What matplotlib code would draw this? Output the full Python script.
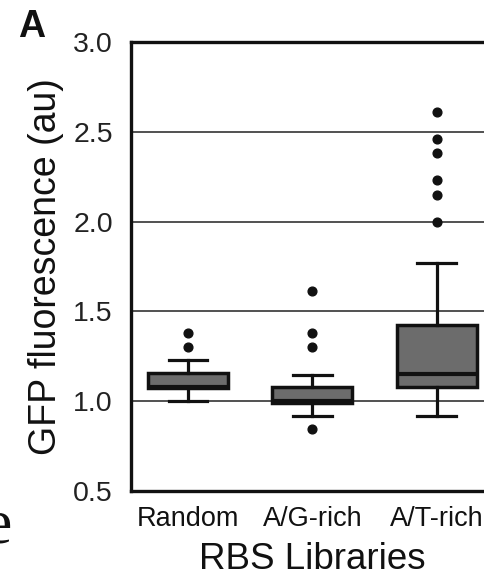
import matplotlib
matplotlib.use("Agg")
import matplotlib.pyplot as plt

plt.rcParams['font.family'] = ['Liberation Sans', 'DejaVu Sans']

# Summary statistics per RBS library
libraries = ['Random', 'A/G-rich', 'A/T-rich']
q1 = [1.072, 0.992, 1.076]
medians = [1.08, 1.00, 1.15]
q3 = [1.154, 1.08, 1.425]
whisker_lo = [1.00, 0.918, 0.918]
whisker_hi = [1.23, 1.148, 1.77]
outliers = [
    [1.30, 1.38],
    [0.844, 1.30, 1.38, 1.614],
    [2.00, 2.15, 2.23, 2.38, 2.46, 2.61],
]
yticks = [0.5, 1.0, 1.5, 2.0, 2.5, 3.0]

stats = []
for i, name in enumerate(libraries):
    stats.append({
        'label': name,
        'q1': q1[i], 'med': medians[i], 'q3': q3[i],
        'whislo': whisker_lo[i], 'whishi': whisker_hi[i],
        'fliers': outliers[i],
    })

fig = plt.figure(figsize=(4.85, 5.83), dpi=100)
ax = fig.add_axes([0.270, 0.158, 0.748, 0.770])

for y in [1.0, 1.5, 2.0, 2.5]:
    ax.axhline(y, color='#222222', linewidth=1.1, zorder=0)

ax.bxp(stats, positions=[1, 2, 3], widths=0.645, capwidths=0.31,
       patch_artist=True,
       boxprops=dict(facecolor='#6c6c6c', edgecolor='#111111', linewidth=2.5),
       medianprops=dict(color='#111111', linewidth=3.0),
       whiskerprops=dict(color='#111111', linewidth=2.3),
       capprops=dict(color='#111111', linewidth=2.3),
       flierprops=dict(marker='o', markerfacecolor='#111111',
                       markeredgecolor='#111111', markersize=6.3))

ax.set_xlim(0.54, 3.46)
ax.set_ylim(0.5, 3.0)
ax.set_yticks(yticks)
ax.set_yticklabels([f'{v:.1f}' for v in yticks], fontsize=20.5, color='#222222')
ax.set_xticks([1, 2, 3])
ax.set_xticklabels(libraries, fontsize=19.5, color='#111111')
ax.tick_params(axis='both', length=0)
ax.tick_params(axis='y', pad=13)
ax.tick_params(axis='x', pad=11)

for side in ['left', 'top', 'bottom', 'right']:
    ax.spines[side].set_linewidth(2.4)
    ax.spines[side].set_color('#111111')

ax.set_ylabel('GFP fluorescence (au)', fontsize=27, color='#111111')
ax.yaxis.set_label_coords(-0.185, 0.5)
ax.set_xlabel('RBS Libraries', fontsize=26.5, color='#111111', labelpad=7)

fig.text(0.037, 0.9365, 'A', fontsize=27, fontweight='bold', color='#111111',
         ha='left', va='baseline')
fig.text(0.025, 0.069, 'e', fontsize=46, fontfamily='Liberation Serif',
         color='#111111', ha='right', va='baseline')

fig.savefig('out.png', dpi=100)
